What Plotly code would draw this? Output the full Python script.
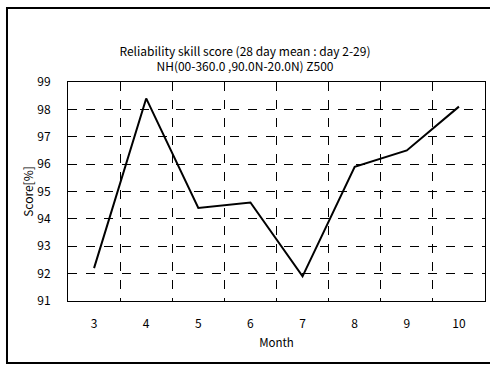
import plotly.graph_objects as go

months = [3, 4, 5, 6, 7, 8, 9, 10]
month_labels = ["3", "4", "5", "6", "7", "8", "9", "10"]
scores = [92.2, 98.4, 94.4, 94.6, 91.9, 95.9, 96.5, 98.1]
y_ticks = [91, 92, 93, 94, 95, 96, 97, 98, 99]
boundaries = [3.5, 4.5, 5.5, 6.5, 7.5, 8.5, 9.5]

FONT = "Noto Sans CJK JP"

fig = go.Figure()
fig.add_trace(go.Scatter(x=months, y=scores, mode="lines",
                         line=dict(color="black", width=2), showlegend=False))
# invisible trace on overlay axis for vertical grid lines
fig.add_trace(go.Scatter(x=boundaries, y=[None] * len(boundaries), xaxis="x2",
                         mode="lines", showlegend=False, hoverinfo="skip"))

fig.update_layout(
    width=490, height=365,
    margin=dict(l=68, r=5, t=82, b=64, autoexpand=False),
    paper_bgcolor="white", plot_bgcolor="white",
    font=dict(family=FONT, size=12, color="black"),
    title=dict(text="Reliability skill score (28 day mean : day 2-29)<br>NH(00-360.0 ,90.0N-20.0N) Z500",
               x=0.5, xanchor="center", y=0.847, yanchor="middle", automargin=False,
               font=dict(family=FONT, size=12, color="black")),
    xaxis=dict(range=[2.5, 10.5], tickmode="array", tickvals=months, ticktext=month_labels,
               showgrid=False, zeroline=False, showline=True, linecolor="black", linewidth=1,
               mirror=True, ticks="", automargin=False, ticklabelstandoff=12,
               title=dict(text="Month", standoff=8, font=dict(size=11.5)),
               tickfont=dict(size=12)),
    xaxis2=dict(range=[2.5, 10.5], overlaying="x", tickmode="array", tickvals=boundaries,
                showticklabels=False, showgrid=True, gridcolor="black", griddash="dash",
                gridwidth=1, zeroline=False, showline=False, ticks="", automargin=False),
    yaxis=dict(range=[91, 99], tickmode="array", tickvals=y_ticks,
               showgrid=True, gridcolor="black", griddash="dash", gridwidth=1,
               zeroline=False, showline=True, linecolor="black", linewidth=1, mirror=True,
               ticks="", automargin=False, ticklabelstandoff=14,
               title=dict(text="Score[%]", standoff=1, font=dict(size=12)),
               tickfont=dict(size=12)),
)
fig.add_shape(type="rect", xref="paper", yref="paper",
              x0=-0.1463, x1=1.024, y0=-0.283, y1=1.338,
              line=dict(color="black", width=2), layer="below")

fig.write_html("out.html", config={"displayModeBar": False},
               post_script="document.body.style.margin='0';document.body.style.overflow='hidden';")
